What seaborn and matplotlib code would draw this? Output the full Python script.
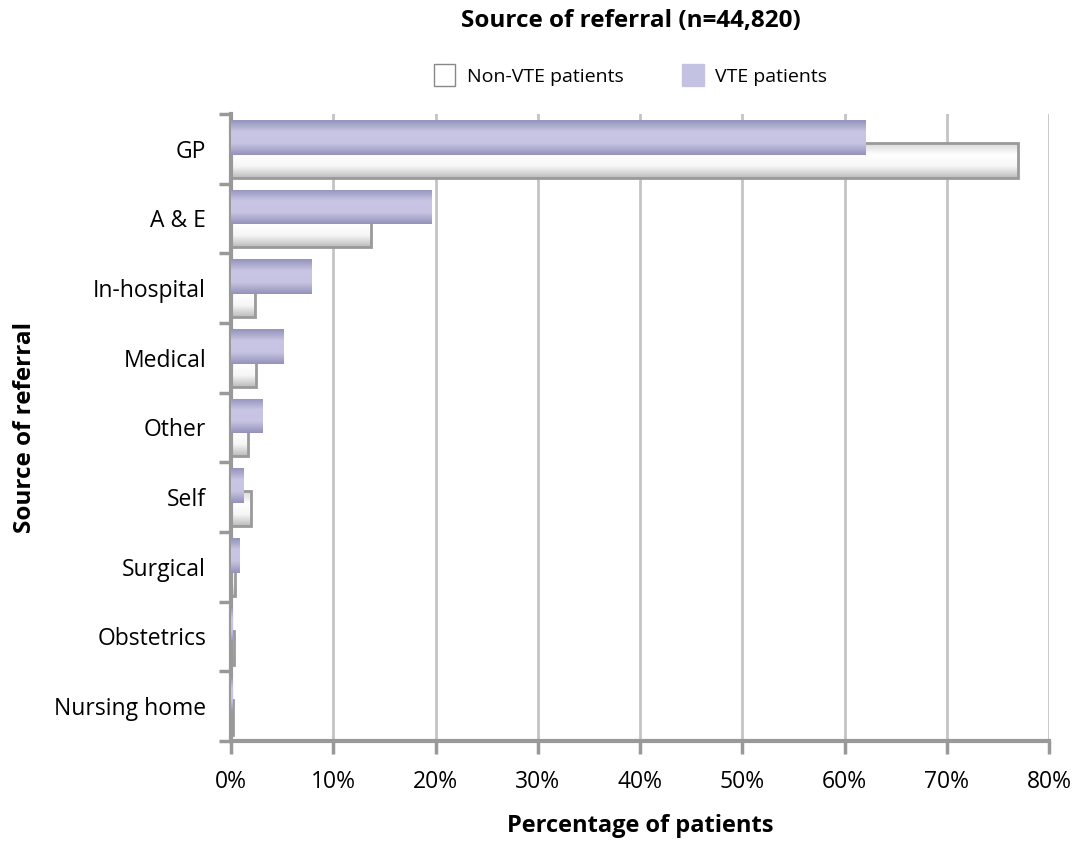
import numpy as np
import pandas as pd
import matplotlib
matplotlib.use("Agg")
import matplotlib.pyplot as plt
from matplotlib.colors import LinearSegmentedColormap
from matplotlib.patches import Patch
import seaborn as sns

categories = ["GP", "A & E", "In-hospital", "Medical", "Other", "Self",
              "Surgical", "Obstetrics", "Nursing home"]
vte = [62.1, 19.6, 7.9, 5.1, 3.1, 1.2, 0.85, 0.1, 0.1]
non_vte = [77.0, 13.7, 2.3, 2.4, 1.7, 2.0, 0.4, 0.25, 0.15]

sns.set_style("white")
plt.rcParams['font.family'] = ['Open Sans', 'DejaVu Sans']
plt.rcParams['text.color'] = 'black'
plt.rcParams['axes.labelcolor'] = 'black'
plt.rcParams['xtick.color'] = 'black'
plt.rcParams['ytick.color'] = 'black'

df_vte = pd.DataFrame({"cat": categories, "val": vte})
df_non = pd.DataFrame({"cat": categories, "val": non_vte})

fig = plt.figure(figsize=(10.78, 8.43), dpi=100)
ax = fig.add_axes([0.2143, 0.121, 0.7588, 0.7438])

# grid
for x in range(10, 81, 10):
    ax.axvline(x, color="#c4c4c4", lw=2, zorder=0)

sns.barplot(data=df_non, y="cat", x="val", orient="h", width=0.5,
            color="white", ax=ax, zorder=2)
n_non = len(ax.patches)
sns.barplot(data=df_vte, y="cat", x="val", orient="h", width=0.5,
            color="#c4c2e2", ax=ax, zorder=3)

cm_non = LinearSegmentedColormap.from_list("n", ["#d8d8d8", "#ffffff", "#f6f6f6", "#bcbcbc"])
cm_vte = LinearSegmentedColormap.from_list("v", ["#9494bc", "#c8c6e4", "#c6c4e2", "#9492ba"])
grad = np.linspace(0, 1, 64).reshape(-1, 1)

for i, p in enumerate(ax.patches):
    is_non = i < n_non
    p.set_y(p.get_y() + (0.165 if is_non else -0.165))
    x0, y0 = p.get_x(), p.get_y()
    w, h = p.get_width(), p.get_height()
    im = ax.imshow(grad, cmap=cm_non if is_non else cm_vte, aspect="auto",
                   extent=[x0, x0 + w, y0 + h, y0], zorder=2 if is_non else 3,
                   interpolation="bicubic")
    im.set_clip_path(p)
    if is_non:
        p.set_facecolor("none")
        p.set_edgecolor("#9a9a9a")
        p.set_linewidth(2)
        p.set_zorder(2.5)
    else:
        p.set_facecolor("none")
        p.set_edgecolor("none")

ax.set_xlim(0, 80)
ax.set_ylim(len(categories) - 0.5, -0.5)
ax.set_xticks(range(0, 81, 10))
ax.set_xticklabels([f"{x}%" for x in range(0, 81, 10)], fontsize=16.5)
ax.set_yticks(range(len(categories)))
ax.set_yticklabels(categories, fontsize=16.5)
ax.set_yticks(np.arange(-0.5, len(categories)), minor=True)
ax.tick_params(left=True, bottom=True)
ax.tick_params(axis="y", which="major", length=0, pad=18)
ax.tick_params(axis="y", which="minor", left=True, length=9, width=2.5, color="#999999", direction="out")
ax.tick_params(axis="x", which="major", length=9, width=2.5, color="#999999", direction="out", pad=12)

for s in ["top", "right"]:
    ax.spines[s].set_visible(False)
for s in ["left", "bottom"]:
    ax.spines[s].set_color("#999999")
    ax.spines[s].set_linewidth(3)

ax.set_xlabel("Percentage of patients", fontsize=17, fontweight="bold", labelpad=14)
ax.set_ylabel("Source of referral", fontsize=17.5, fontweight="bold", labelpad=12)

fig.text(0.585, 0.975, "Source of referral (n=44,820)", ha="center", va="center",
         fontsize=17.5, fontweight="bold")

handles = [Patch(facecolor="white", edgecolor="#888888", linewidth=1),
           Patch(facecolor="#c4c2e2", edgecolor="#c4c2e2")]
fig.legend(handles, ["Non-VTE patients", "VTE patients"], loc="center",
           bbox_to_anchor=(0.585, 0.911), ncol=2, frameon=False, fontsize=14,
           handlelength=1.1, handleheight=1.3, columnspacing=3.0, handletextpad=0.6)

fig.savefig("out.png", dpi=100)
